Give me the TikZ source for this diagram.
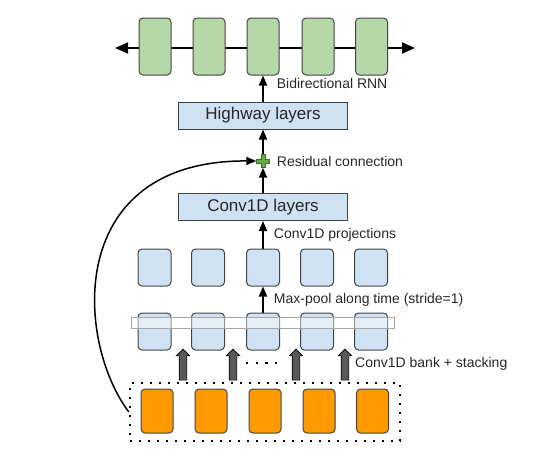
\documentclass[tikz,border=0pt]{standalone}
\usepackage{fontspec}
\setmainfont{Liberation Sans}
\usetikzlibrary{arrows.meta,shapes.arrows,positioning}
\definecolor{rnngreen}{HTML}{B6D7A8}
\definecolor{convblue}{HTML}{CFE2F3}
\definecolor{inorange}{HTML}{FF9900}
\definecolor{edgegray}{HTML}{434343}
\definecolor{plusgreen}{HTML}{6AA84F}
\definecolor{plusdark}{HTML}{38761D}
\definecolor{bankgray}{HTML}{595959}
\begin{document}
\begin{tikzpicture}[x=1pt, y=-1pt,
	cell/.style={draw=edgegray, line width=1pt, rounded corners=4pt, inner sep=0pt},
	rnncell/.style={cell, fill=rnngreen, minimum width=32pt, minimum height=57pt},
	convcell/.style={cell, fill=convblue, minimum width=33pt, minimum height=37pt},
	incell/.style={cell, fill=inorange, minimum width=32pt, minimum height=44pt},
	layerbox/.style={draw=edgegray, line width=1pt, fill=convblue, minimum width=169pt, minimum height=27pt, inner sep=0pt, text=black!85, font=\fontsize{17}{20}\selectfont},
	note/.style={font=\fontsize{14}{16}\selectfont, text=black!85, inner sep=2pt, anchor=west},
	flow/.style={line width=1.8pt, -{Triangle[length=10pt, width=8pt]}},
	bankarrow/.style={single arrow, draw=black, fill=bankgray, line width=0.6pt, shape border rotate=90, minimum height=31pt, minimum width=13pt, single arrow head extend=3pt, single arrow head indent=0pt, inner sep=3.5pt},
	]
	\useasboundingbox (0,0) rectangle (560,458);
	% bidirectional RNN
	\coordinate (rnnleft) at (115,48);
	\coordinate (rnnright) at (415,48);
	\draw [line width=1.8pt, {Triangle[length=13pt, width=11pt]}-{Triangle[length=13pt, width=11pt]}] (rnnleft) -- (rnnright);
	\node[rnncell] (rnn1) at (155,46.5) {};
	\node[rnncell] (rnn2) at (209,46.5) {};
	\node[rnncell] (rnn3) at (263,46.5) {};
	\node[rnncell] (rnn4) at (318,46.5) {};
	\node[rnncell] (rnn5) at (371.5,46.5) {};
	% layers
	\node[layerbox] (highway) at (263,115.5) {Highway layers};
	\node[circle, inner sep=0pt, minimum size=13pt] (plus) at (263,161) {};
	\filldraw [fill=plusgreen, draw=plusdark, line width=0.6pt, shift={(plus.center)}] (-2.2,-6.5) -- (2.2,-6.5) -- (2.2,-2.2) -- (6.5,-2.2) -- (6.5,2.2) -- (2.2,2.2) -- (2.2,6.5) -- (-2.2,6.5) -- (-2.2,2.2) -- (-6.5,2.2) -- (-6.5,-2.2) -- (-2.2,-2.2) -- cycle;
	\node[note, right=5pt of plus] (reslabel) {Residual connection};
	\node[layerbox] (convlayers) at (263,207) {Conv1D layers};
	% projections
	\node[convcell] (proj1) at (154.5,267.5) {};
	\node[convcell] (proj2) at (208,267.5) {};
	\node[convcell] (proj3) at (263,267.5) {};
	\node[convcell] (proj4) at (317,267.5) {};
	\node[convcell] (proj5) at (371,267.5) {};
	% conv bank
	\node[convcell] (bank1) at (154.5,331.5) {};
	\node[convcell] (bank2) at (208,331.5) {};
	\node[convcell] (bank3) at (263,331.5) {};
	\node[convcell] (bank4) at (317,331.5) {};
	\node[convcell] (bank5) at (371,331.5) {};
	\node[draw=gray!70, line width=1pt, fill=white, fill opacity=0.45, minimum width=263pt, minimum height=11pt, inner sep=0pt] (poolwin) at (262.5,322.5) {};
	% inputs
	\node[incell] (in1) at (157,411) {};
	\node[incell] (in2) at (211,411) {};
	\node[incell] (in3) at (265,411) {};
	\node[incell] (in4) at (319,411) {};
	\node[incell] (in5) at (372.5,411) {};
	\node[draw, line width=2.4pt, dash pattern=on 2.4pt off 6.6pt, minimum width=270pt, minimum height=58pt, inner sep=0pt] (inframe) at (265,412) {};
	\node[bankarrow] (ba1) at (183,366.5) {};
	\node[bankarrow] (ba2) at (233,366.5) {};
	\node[bankarrow] (ba3) at (296,366.5) {};
	\node[bankarrow] (ba4) at (345,366.5) {};
	\coordinate (dotsleft) at (246,363);
	\coordinate (dotsright) at (278.4,363);
	\draw [line width=2.4pt, dash pattern=on 2.4pt off 7.2pt] (dotsleft) -- (dotsright);
	\node[note] (banklabel) at (353,364) {Conv1D bank + stacking};
	% connections
	\draw [flow] (highway.north) -- (rnn3.south) node[note, midway, xshift=11pt, yshift=5pt] {Bidirectional RNN};
	\draw [flow] (plus.north) -- (highway.south);
	\draw [flow] (convlayers.north) -- (plus.south);
	\draw [flow] (proj3.north) -- (convlayers.south) node[note, midway, xshift=8pt] {Conv1D projections};
	\draw [flow] (bank3.north) -- (proj3.south) node[note, midway, xshift=8pt] {Max-pool along time (stride=1)};
	\draw [flow, line width=1.5pt] (inframe.west) .. controls (75,340) and (65,160) .. (plus.west);
\end{tikzpicture}
\end{document}
